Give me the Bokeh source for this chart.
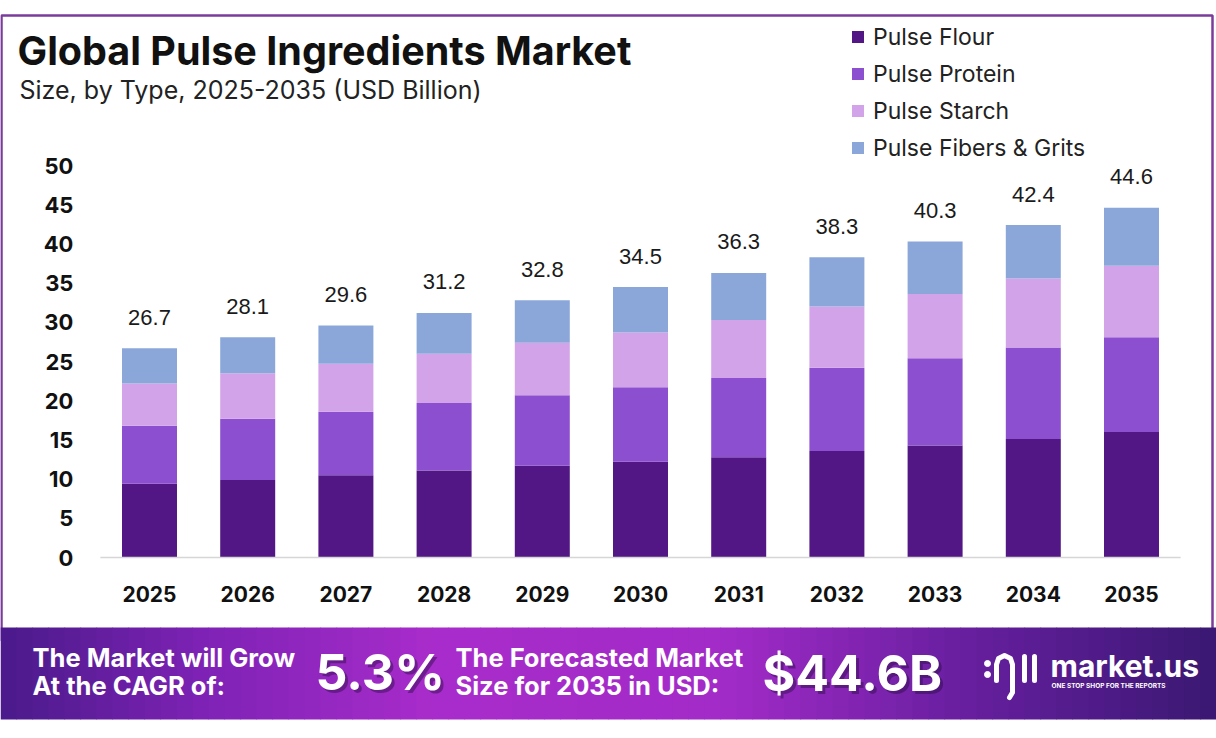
from bokeh.plotting import figure
from bokeh.models import Range1d, ColumnDataSource, Label, Legend, LegendItem
from bokeh.embed import file_html
from bokeh.resources import INLINE
from bokeh.core.properties import value

# ---------------- data ----------------
years = ["2025", "2026", "2027", "2028", "2029", "2030", "2031", "2032", "2033", "2034", "2035"]
pulse_flour = [9.4, 9.9, 10.5, 11.1, 11.7, 12.2, 12.8, 13.6, 14.3, 15.1, 16.0]
pulse_protein = [7.4, 7.8, 8.1, 8.6, 9.0, 9.5, 10.1, 10.6, 11.1, 11.7, 12.1]
pulse_starch = [5.4, 5.8, 6.1, 6.3, 6.7, 7.0, 7.4, 7.8, 8.2, 8.8, 9.1]
pulse_fibers = [4.5, 4.6, 4.9, 5.2, 5.4, 5.8, 6.0, 6.3, 6.7, 6.8, 7.4]
totals = [26.7, 28.1, 29.6, 31.2, 32.8, 34.5, 36.3, 38.3, 40.3, 42.4, 44.6]
series_names = ["Pulse Flour", "Pulse Protein", "Pulse Starch", "Pulse Fibers & Grits"]
series_colors = ["#521785", "#8c4fcf", "#d2a3e9", "#8ba7da"]
y_ticks = [0, 5, 10, 15, 20, 25, 30, 35, 40, 45, 50]
y_tick_labels = [str(t) for t in y_ticks]
cagr_text = "5.3%"
forecast_text = "$44.6B"

FONT = "Inter"
W, H = 1216, 738

year_num = [int(y) for y in years]

# data scales: bars centred 98.2 px apart starting at x=149, value 0 at y=557, 7.84 px per unit
px_per_year = 98.2
px_per_unit = 7.84
x0 = year_num[0] - 149.0 / px_per_year
y0 = -(H - 557.0) / px_per_unit

p = figure(width=W, height=H, output_backend="svg", toolbar_location=None,
           x_range=Range1d(x0, x0 + W / px_per_year),
           y_range=Range1d(y0, y0 + H / px_per_unit),
           min_border=0, x_axis_location=None, y_axis_location=None)
p.extra_x_ranges = {"px": Range1d(0, W)}
p.extra_y_ranges = {"px": Range1d(H, 0)}
p.outline_line_color = None
p.grid.visible = False
p.background_fill_color = "white"
p.border_fill_color = "white"

PX = dict(x_range_name="px", y_range_name="px")

# ---------------- frame border ----------------
p.quad(left=1, right=1212, top=15, bottom=640, fill_alpha=0, line_color="#7b3b9b",
       line_width=2.5, **PX)

# ---------------- bars ----------------
src = ColumnDataSource(dict(year=year_num, flour=pulse_flour, protein=pulse_protein,
                            starch=pulse_starch, fibers=pulse_fibers, total=totals,
                            label=[f"{t:.1f}" for t in totals]))
rends = p.vbar_stack(["flour", "protein", "starch", "fibers"], x="year", width=0.56,
                     color=series_colors, line_color=None, source=src)

p.text(x="year", y="total", text="label", source=src, text_align="center",
       text_baseline="middle", y_offset=-31, text_font=value("Liberation Sans"),
       text_font_size="22px", text_color="#1a1a1a")

# ---------------- axes (drawn through the scales) ----------------
p.segment(x0=[year_num[0] - 0.5], x1=[year_num[-1] + 0.5], y0=[0], y1=[0],
          line_color="#d6d6d6", line_width=1.5)
p.text(x=year_num, y=[0] * len(years), text=years, y_offset=36, text_align="center",
       text_baseline="middle", text_font=value(FONT), text_font_style="bold",
       text_font_size="21px", text_color="#111111")
p.text(x=[year_num[0] - 0.5] * len(y_ticks), y=y_ticks, text=y_tick_labels, x_offset=-27,
       text_align="right", text_baseline="middle", text_font=value(FONT),
       text_font_style="bold", text_font_size="22px", text_color="#111111")

# ---------------- legend ----------------
legend = Legend(items=[LegendItem(label=n, renderers=[r]) for n, r in zip(series_names, rends)],
                location=(850, 572), orientation="vertical", padding=0, margin=0,
                spacing=0, label_height=37, glyph_width=15, glyph_height=15,
                label_standoff=8, border_line_color=None, background_fill_alpha=0,
                label_text_font=FONT, label_text_font_size="23px",
                label_text_color="#222222")
p.add_layout(legend)

# ---------------- titles ----------------
p.add_layout(Label(x=17, y=H - 50, x_units="screen", y_units="screen",
                   text="Global Pulse Ingredients Market", text_font=FONT,
                   text_font_style="bold", text_font_size="39.5px", text_color="#111111",
                   text_baseline="middle"))
p.add_layout(Label(x=19, y=H - 89.5, x_units="screen", y_units="screen",
                   text="Size, by Type, 2025-2035 (USD Billion)", text_font=FONT,
                   text_font_size="25px", text_color="#222222", text_baseline="middle"))

# ---------------- banner ----------------
banner_stops = [(0, (74, 26, 138)), (200, (125, 34, 180)), (430, (168, 44, 203)),
                (720, (163, 43, 200)), (960, (104, 31, 160)), (1216, (58, 24, 114))]


def stop_color(x):
    for (xa, ca), (xb, cb) in zip(banner_stops[:-1], banner_stops[1:]):
        if xa <= x <= xb:
            t = (x - xa) / (xb - xa)
            return "#%02x%02x%02x" % tuple(int(round(a + (b - a) * t)) for a, b in zip(ca, cb))
    return "#%02x%02x%02x" % banner_stops[-1][1]


n_strips = 76
edges = [W * i / n_strips for i in range(n_strips + 1)]
p.quad(left=edges[:-1], right=[e + 0.6 for e in edges[1:]], top=627, bottom=719,
       color=[stop_color((l + r) / 2) for l, r in zip(edges[:-1], edges[1:])],
       line_color=None, **PX)

text_kw = dict(text_font=value(FONT), text_font_style="bold", text_color="white",
               text_baseline="middle", text_align="left")
p.text(x=[32, 32, 455, 455], y=[656.5, 684.5, 656.5, 684.5],
       text=["The Market will Grow", "At the CAGR of:", "The Forecasted Market",
             "Size for 2035 in USD:"], text_font_size="25.5px", **text_kw, **PX)
p.text(x=[318, 765], y=[674, 675], text=[cagr_text, forecast_text], text_font_size="50px",
       text_font=value(FONT), text_font_style="bold", text_color="#2a0a45", text_alpha=0.45,
       text_baseline="middle", **PX)
p.text(x=[315, 762], y=[671, 672], text=[cagr_text, forecast_text], text_font_size="50px",
       **text_kw, **PX)

# logo
p.text(x=[1050], y=[665], text=["market.us"], text_font_size="30px", **text_kw, **PX)
p.text(x=[1051], y=[685], text=["ONE STOP SHOP FOR THE REPORTS"], text_font_size="6.5px",
       **text_kw, **PX)
p.scatter(x=[987, 987], y=[663, 674], size=6, color="white", **PX)
p.line(x=[996, 996, 998, 1004, 1010, 1012, 1012, 1009],
       y=[680, 664, 658, 655, 658, 664, 692, 697],
       line_color="white", line_width=5, line_cap="round", line_join="round", **PX)
p.segment(x0=[1024, 1034], y0=[656, 656], x1=[1024, 1034], y1=[680, 680],
          line_color="white", line_width=5, line_cap="round", **PX)

open("out.html", "w").write(file_html(p, INLINE))
